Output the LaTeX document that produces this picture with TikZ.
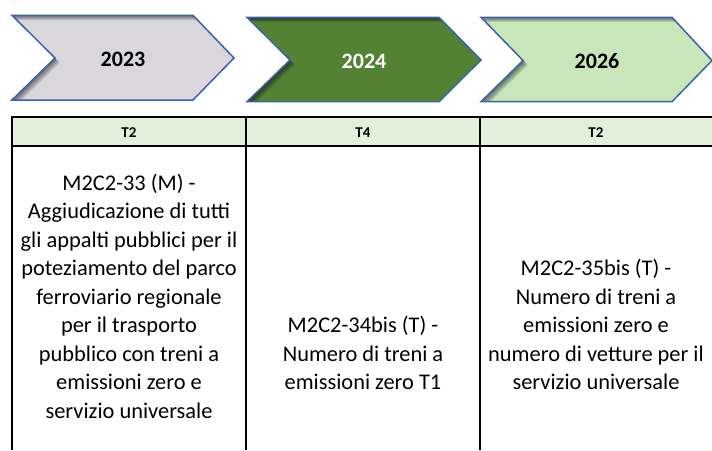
\documentclass[tikz,border=0pt]{standalone}
\usepackage{fontspec}
\setmainfont{Carlito}
\definecolor{chgrey}{HTML}{D9D7DB}
\definecolor{chdark}{HTML}{548235}
\definecolor{chlight}{HTML}{C8E6BA}
\definecolor{chborder}{HTML}{3A63A9}
\definecolor{headfill}{HTML}{E2EFDA}
% #1 left, #2 notch x, #3 right corner, #4 tip, #5 top, #6 bottom, #7 mid y, #8 offset
\newcommand\chevpath[8]{(#1+#8,#5+#8) -- (#3+#8,#5+#8) -- (#4+#8,#7+#8) -- (#3+#8,#6+#8) -- (#1+#8,#6+#8) -- (#2+#8,#7+#8) -- cycle}
\newcommand\chevron[8]{%
  \fill[#8] \chevpath{#1}{#2}{#3}{#4}{#5}{#6}{#7}{0};
  \begin{scope}
    \clip \chevpath{#1}{#2}{#3}{#4}{#5}{#6}{#7}{0};
    \foreach \s in {0.8,1.6,2.4,3.2,4.0,4.8} {
      \fill[black, opacity=0.1, even odd rule] (-50,-50) rectangle (800,500) \chevpath{#1}{#2}{#3}{#4}{#5}{#6}{#7}{\s};
    }
  \end{scope}
  \draw[chevline] \chevpath{#1}{#2}{#3}{#4}{#5}{#6}{#7}{0};
}
\begin{document}
\begin{tikzpicture}[x=1pt,y=-1pt,
  chevline/.style={draw=chborder, line width=1.5pt, line join=miter},
  yeartext/.style={font=\fontsize{22}{26}\selectfont\bfseries, inner sep=0pt, anchor=center},
  headtext/.style={font=\fontsize{15}{17}\selectfont\bfseries, inner sep=0pt, anchor=center},
  bodytext/.style={font=\fontsize{22.4}{28.5}\selectfont, align=center, inner sep=0pt, anchor=base},
  tabline/.style={draw=black, line width=1.5pt}]
\useasboundingbox (0,0) rectangle (712,450);
\fill[white] (0,0) rectangle (712,450);

% chevrons
\chevron{12}{55}{193}{234}{15.3}{100}{58}{chgrey}
\chevron{247}{290}{439}{481}{17.3}{101.7}{60}{chdark}
\chevron{481}{523}{672}{712}{17.3}{101.7}{60.5}{chlight}

\node[yeartext] (y2023) at (123,59.7) {2023};
\node[yeartext, text=white] (y2024) at (364,61) {2024};
\node[yeartext] (y2026) at (597,60.8) {2026};

% table
\fill[headfill] (12,117) rectangle (712,146);
\draw[tabline] (12,117) -- (712,117);
\draw[tabline] (12,146) -- (712,146);
\draw[tabline] (12,116.25) -- (12,450);
\draw[tabline] (246,116.25) -- (246,450);
\draw[tabline] (480,116.25) -- (480,450);

\node[headtext] (h1) at (129,132.5) {T2};
\node[headtext] (h2) at (363,132.5) {T4};
\node[headtext] (h3) at (596,132.5) {T2};

% base anchor = baseline of the last line
\node[bodytext] (c1) at (129,418) {M2C2-33 (M) -\\Aggiudicazione di tutti\\gli appalti pubblici per il\\poteziamento del parco\\ferroviario regionale\\per il trasporto\\pubblico con treni a\\emissioni zero e\\servizio universale};
\node[bodytext] (c2) at (363,389.5) {M2C2-34bis (T) -\\Numero di treni a\\emissioni zero T1};
\node[bodytext] (c3) at (596,389.5) {M2C2-35bis (T) -\\Numero di treni a\\emissioni zero e\\numero di vetture per il\\servizio universale};
\end{tikzpicture}
\end{document}
